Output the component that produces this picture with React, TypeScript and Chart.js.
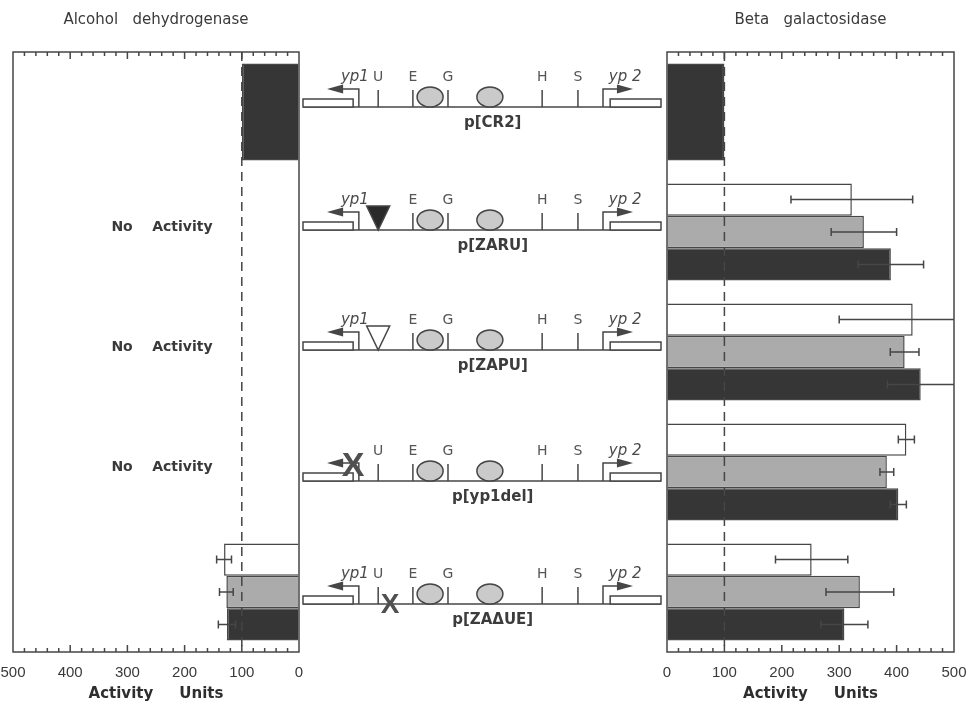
import React, { useEffect, useRef } from "react";
import { Chart, registerables } from "chart.js";
Chart.register(...registerables);

// ---------------- data ----------------
const CONSTRUCTS = ["p[CR2]", "p[ZARU]", "p[ZAPU]", "p[yp1del]", "p[ZAΔUE]"];

// Alcohol dehydrogenase (left panel)
const ADH_WHITE = [null, null, null, null, 131];
const ADH_GRAY = [null, null, null, null, 127];
const ADH_DARK = [100, null, null, null, 126];
const ADH_WHITE_ERR = [0, 0, 0, 0, 13];
const ADH_GRAY_ERR = [0, 0, 0, 0, 12];
const ADH_DARK_ERR = [0, 0, 0, 0, 15];
const ADH_NOTES = ["", "No    Activity", "No    Activity", "No    Activity", ""];

// Beta galactosidase (right panel)
const BGAL_WHITE = [null, 322, 428, 417, 252];
const BGAL_GRAY = [null, 343, 414, 383, 336];
const BGAL_DARK = [100, 390, 442, 403, 309];
const BGAL_WHITE_ERR = [0, 106, 128, 14, 63];
const BGAL_GRAY_ERR = [0, 57, 25, 12, 59];
const BGAL_DARK_ERR = [0, 57, 58, 14, 41];

const REFERENCE_LEVEL = 100;

// construct schematic (units 0..100 along the construct)
const SITE_NAMES = ["U", "E", "G", "H", "S"];
const SITE_POS = [21, 30.7, 40.5, 66.8, 76.8];
const ELLIPSE_POS = [35.5, 52.2];
const HAS_U = [true, false, false, true, true];
const HAS_YP1_LABEL = [true, true, true, false, true];
const MARK_TYPE = ["", "filledTriangle", "openTriangle", "x", "x"];
const MARK_POS = [0, 21, 21, 14, 24.3];

// ---------------- styles / layout ----------------
const INK = "#464646";
const WHITE = "#ffffff";
const GRAY = "#ababab";
const DARK = "#363636";
const ROW_SHIFT = [-5, -2, -2, 9, 12];
const MARK_DY = [0, 0, 0, -17, -1];
const MARK_SIZE = [0, 0, 0, 34, 28];

function decorPlugin(title: string, errs: number[][], values: (number | null)[][], notes?: string[]) {
  return {
    id: "decor",
    afterDatasetsDraw(chart: any) {
      const ctx = chart.ctx as CanvasRenderingContext2D;
      const ca = chart.chartArea;
      const xs = chart.scales.x;
      const ys = chart.scales.y;
      ctx.save();
      // error bars
      ctx.strokeStyle = INK;
      ctx.lineWidth = 1.5;
      for (let d = 0; d < values.length; d++) {
        const meta = chart.getDatasetMeta(d);
        values[d].forEach((v, j) => {
          const e = errs[d][j];
          if (v == null || !e) return;
          const el = meta.data[j];
          if (!el) return;
          const y = el.y;
          const a = xs.getPixelForValue(v - e);
          const b = xs.getPixelForValue(v + e);
          const lo = Math.max(Math.min(a, b), ca.left);
          const hi = Math.min(Math.max(a, b), ca.right);
          ctx.beginPath();
          ctx.moveTo(lo, y);
          ctx.lineTo(hi, y);
          for (const p of [a, b]) {
            if (p >= ca.left + 1 && p <= ca.right - 1) {
              ctx.moveTo(p, y - 4);
              ctx.lineTo(p, y + 4);
            }
          }
          ctx.stroke();
        });
      }
      // dashed reference line
      const rx = xs.getPixelForValue(REFERENCE_LEVEL);
      ctx.setLineDash([9, 6]);
      ctx.beginPath();
      ctx.moveTo(rx, ca.top);
      ctx.lineTo(rx, ca.bottom);
      ctx.stroke();
      ctx.setLineDash([]);
      // frame
      ctx.strokeRect(ca.left, ca.top, ca.right - ca.left, ca.bottom - ca.top);
      // inward ticks top and bottom
      ctx.beginPath();
      for (let v = 20; v < 500; v += 20) {
        const x = xs.getPixelForValue(v);
        const len = v % 100 === 0 ? 7 : 4;
        ctx.moveTo(x, ca.bottom);
        ctx.lineTo(x, ca.bottom - len);
        ctx.moveTo(x, ca.top);
        ctx.lineTo(x, ca.top + len);
      }
      ctx.stroke();
      // title
      ctx.fillStyle = "#3a3a3a";
      ctx.font = '15px "DejaVu Sans"';
      ctx.textAlign = "center";
      ctx.textBaseline = "middle";
      ctx.fillText(title, (ca.left + ca.right) / 2, 20);
      // notes
      if (notes) {
        ctx.font = 'bold 14px "DejaVu Sans"';
        notes.forEach((n, i) => {
          if (!n) return;
          ctx.fillText(n, (ca.left + ca.right) / 2 + 6, ys.getPixelForValue(i) - 5);
        });
      }
      ctx.restore();
    },
  };
}

function barConfig(p: {
  title: string;
  white: (number | null)[];
  gray: (number | null)[];
  dark: (number | null)[];
  errs: number[][];
  reverse: boolean;
  padLeft: number;
  padRight: number;
  notes?: string[];
}) {
  const ds = (data: (number | null)[], color: string) => ({
    data,
    backgroundColor: color,
    borderColor: INK,
    borderWidth: 1.5,
    skipNull: true,
    categoryPercentage: 0.81,
    barPercentage: 1,
  });
  return {
    type: "bar" as const,
    data: {
      labels: CONSTRUCTS,
      datasets: [ds(p.white, WHITE), ds(p.gray, GRAY), ds(p.dark, DARK)],
    },
    options: {
      indexAxis: "y" as const,
      responsive: false,
      animation: false as const,
      layout: { padding: { left: p.padLeft, right: p.padRight, top: 52, bottom: 0 } },
      plugins: { legend: { display: false }, tooltip: { enabled: false }, title: { display: false } },
      scales: {
        y: { type: "category" as const, display: false, offset: true },
        x: {
          type: "linear" as const,
          min: 0,
          max: 500,
          reverse: p.reverse,
          grid: {
            display: true,
            drawOnChartArea: false,
            drawTicks: true,
            tickLength: 12,
            color: "rgba(0,0,0,0)",
          },
          border: { display: false },
          ticks: {
            stepSize: 100,
            padding: 0,
            color: "#3a3a3a",
            font: { family: '"Liberation Sans", Arial', size: 15 },
          },
          title: {
            display: true,
            text: "Activity     Units",
            color: "#2e2e2e",
            font: { family: '"DejaVu Sans"', size: 15, weight: "bold" as const },
            padding: { top: 0, bottom: 1 },
          },
          afterFit: (s: any) => {
            s.height = 52;
            s.paddingLeft = 0;
            s.paddingRight = 0;
          },
        },
      },
    },
    plugins: [decorPlugin(p.title, p.errs, [p.white, p.gray, p.dark], p.notes)],
  };
}

const schematicPlugin = {
  id: "schematic",
  afterDraw(chart: any) {
    const ctx = chart.ctx as CanvasRenderingContext2D;
    const xs = chart.scales.x;
    const ys = chart.scales.y;
    const X = (u: number) => xs.getPixelForValue(u);
    CONSTRUCTS.forEach((name, i) => {
      const base = ys.getPixelForValue(i) + ROW_SHIFT[i];
      ctx.save();
      ctx.strokeStyle = INK;
      ctx.lineWidth = 1.5;
      // backbone
      ctx.beginPath();
      ctx.moveTo(X(0), base);
      ctx.lineTo(X(100), base);
      ctx.stroke();
      // coding boxes
      ctx.fillStyle = "#fff";
      for (const [a, b] of [[0, 14], [85.8, 100]]) {
        ctx.fillRect(X(a), base - 8, X(b) - X(a), 8);
        ctx.strokeRect(X(a), base - 8, X(b) - X(a), 8);
      }
      // yp1 promoter arrow
      ctx.beginPath();
      ctx.moveTo(X(15.6), base);
      ctx.lineTo(X(15.6), base - 18);
      ctx.lineTo(X(10.5), base - 18);
      ctx.stroke();
      ctx.fillStyle = INK;
      ctx.beginPath();
      ctx.moveTo(X(6.7), base - 18);
      ctx.lineTo(X(11.2), base - 22.5);
      ctx.lineTo(X(11.2), base - 13.5);
      ctx.closePath();
      ctx.fill();
      // yp2 promoter arrow
      ctx.beginPath();
      ctx.moveTo(X(83.8), base);
      ctx.lineTo(X(83.8), base - 18);
      ctx.lineTo(X(88.5), base - 18);
      ctx.stroke();
      ctx.beginPath();
      ctx.moveTo(X(92.2), base - 18);
      ctx.lineTo(X(87.7), base - 22.5);
      ctx.lineTo(X(87.7), base - 13.5);
      ctx.closePath();
      ctx.fill();
      // sites
      ctx.textAlign = "center";
      ctx.textBaseline = "middle";
      SITE_NAMES.forEach((s, k) => {
        if (s === "U" && !HAS_U[i]) return;
        const x = X(SITE_POS[k]);
        ctx.beginPath();
        ctx.moveTo(x, base);
        ctx.lineTo(x, base - 17);
        ctx.stroke();
        ctx.fillStyle = "#555";
        ctx.font = '14px "DejaVu Sans"';
        ctx.fillText(s, x, base - 30);
      });
      // ellipses
      ELLIPSE_POS.forEach((u) => {
        ctx.beginPath();
        ctx.ellipse(X(u), base - 10, 13, 10, 0, 0, Math.PI * 2);
        ctx.fillStyle = "#cacaca";
        ctx.fill();
        ctx.stroke();
      });
      // promoter labels
      ctx.fillStyle = "#4a4a4a";
      ctx.font = 'italic 15px "DejaVu Sans"';
      if (HAS_YP1_LABEL[i]) ctx.fillText("yp1", X(14.5), base - 30);
      ctx.fillText("yp 2", X(90), base - 30);
      // construct name
      ctx.fillStyle = "#3c3c3c";
      ctx.font = 'bold 15px "DejaVu Sans"';
      ctx.fillText(name, X(53), base + 16);
      // modification marks
      const m = MARK_TYPE[i];
      const mx = X(MARK_POS[i]);
      if (m === "filledTriangle" || m === "openTriangle") {
        ctx.beginPath();
        ctx.moveTo(mx - 11.5, base - 24);
        ctx.lineTo(mx + 11.5, base - 24);
        ctx.lineTo(mx, base);
        ctx.closePath();
        ctx.fillStyle = m === "filledTriangle" ? "#2a2a2a" : "#fff";
        ctx.fill();
        ctx.stroke();
      } else if (m === "x") {
        const size = MARK_SIZE[i];
        ctx.fillStyle = "#505050";
        ctx.font = `bold ${size}px "Liberation Sans", Arial`;
        ctx.textBaseline = "alphabetic";
        ctx.fillText("X", mx, base + MARK_DY[i] + size * 0.358);
      }
      ctx.restore();
    });
  },
};

function midConfig() {
  return {
    type: "scatter" as const,
    data: { datasets: [] as any[] },
    options: {
      responsive: false,
      animation: false as const,
      layout: { padding: { left: 13, right: 9, top: 52, bottom: 52 } },
      plugins: { legend: { display: false }, tooltip: { enabled: false } },
      scales: {
        x: { type: "linear" as const, min: 0, max: 100, display: false },
        y: { type: "category" as const, labels: CONSTRUCTS, display: false, offset: true },
      },
    },
    plugins: [schematicPlugin],
  };
}

export default function App() {
  const leftRef = useRef<HTMLCanvasElement>(null);
  const midRef = useRef<HTMLCanvasElement>(null);
  const rightRef = useRef<HTMLCanvasElement>(null);

  useEffect(() => {
    const charts = [
      new Chart(
        leftRef.current!,
        barConfig({
          title: "Alcohol   dehydrogenase",
          white: ADH_WHITE,
          gray: ADH_GRAY,
          dark: ADH_DARK,
          errs: [ADH_WHITE_ERR, ADH_GRAY_ERR, ADH_DARK_ERR],
          reverse: true,
          padLeft: 13,
          padRight: 21,
          notes: ADH_NOTES,
        }) as any
      ),
      new Chart(
        rightRef.current!,
        barConfig({
          title: "Beta   galactosidase",
          white: BGAL_WHITE,
          gray: BGAL_GRAY,
          dark: BGAL_DARK,
          errs: [BGAL_WHITE_ERR, BGAL_GRAY_ERR, BGAL_DARK_ERR],
          reverse: false,
          padLeft: 27,
          padRight: 15,
        }) as any
      ),
      new Chart(midRef.current!, midConfig() as any),
    ];
    return () => charts.forEach((c) => c.destroy());
  }, []);

  return (
    <div style={{ position: "absolute", left: 0, top: 0, width: 969, height: 704, background: "#fff" }}>
      <canvas ref={leftRef} width={320} height={704} style={{ position: "absolute", left: 0, top: 0 }} />
      <canvas ref={rightRef} width={329} height={704} style={{ position: "absolute", left: 640, top: 0 }} />
      <canvas ref={midRef} width={380} height={704} style={{ position: "absolute", left: 290, top: 0 }} />
    </div>
  );
}
